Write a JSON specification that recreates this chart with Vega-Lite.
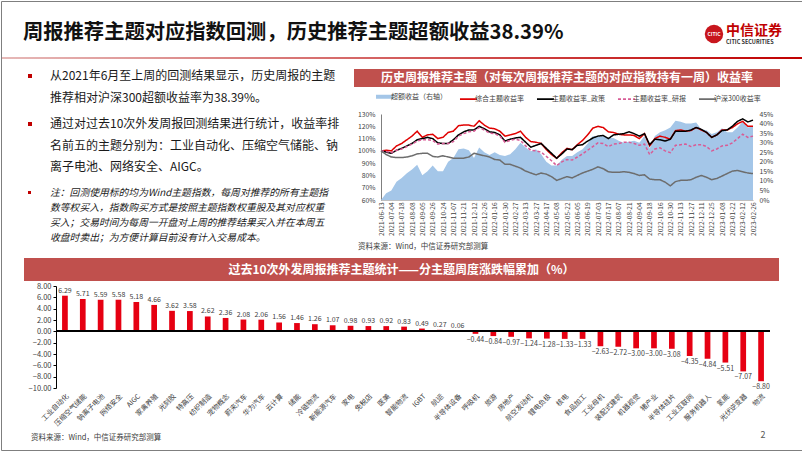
{
"$schema":"https://vega.github.io/schema/vega-lite/v6.json",
"padding":0,
"background":"white",
"config":{"view":{"stroke":null},"font":"Noto Sans CJK SC","concat":{"spacing":0}},
"bounds":"flush","spacing":0,
"vconcat":[
{"bounds":"flush","spacing":0,"vconcat":[
 {"bounds":"flush","spacing":0,"hconcat":[
  {"width":44,"height":56,"data":{"values":[{"t":"周报推荐主题对应指数回测，历史推荐主题超额收益38.39%"}]},"mark":{"type":"text","align":"left","baseline":"middle","dy":4,"fontSize":20.3,"fontWeight":"bold","color":"#111111"},"encoding":{"text":{"field":"t"}}},
  {"width":659,"height":1,"data":{"values":[]},"mark":"text"},
  {"width":20,"height":56,"layer":[
   {"data":{"values":[{"k":"logo"}]},"mark":{"type":"point","shape":"circle","filled":true,"size":340,"color":"#c8161d","opacity":1,"yOffset":5},"encoding":{}},
   {"data":{"values":[{"t":"CITIC"}]},"mark":{"type":"text","fontSize":5,"fontWeight":"bold","color":"white","dy":5},"encoding":{"text":{"field":"t"}}}
  ]},
  {"width":4,"height":56,"layer":[
   {"data":{"values":[{"t":"中信证券"}]},"mark":{"type":"text","align":"left","baseline":"middle","dy":2,"fontSize":14,"fontWeight":"bold","color":"#c00000"},"encoding":{"text":{"field":"t"}}},
   {"data":{"values":[{"t":"CITIC SECURITIES"}]},"mark":{"type":"text","align":"left","baseline":"middle","dy":13,"fontSize":5.5,"fontWeight":"bold","color":"#333333"},"encoding":{"text":{"field":"t"}}}
  ]}
 ]},
 {"width":1,"height":56,"data":{"values":[]},"mark":"text"},
 {"width":802,"height":2,"view":{"fill":{"gradient":"linear","stops":[{"offset":0,"color":"#e6b9b8"},{"offset":1,"color":"#c00000"}]}},"data":{"values":[]},"mark":"text"},
 {"bounds":"flush","spacing":0,"hconcat":[
  {"width":27,"height":1,"data":{"values":[]},"mark":"text"},
  {"bounds":"flush","spacing":0,"vconcat":[
   {"width":1,"height":15,"data":{"values":[]},"mark":"text"},
   {"width":4,"height":4,"view":{"fill":"#c00000"},"data":{"values":[{"t":"从2021年6月至上周的回测结果显示，历史周报的主题\n推荐相对沪深300超额收益率为38.39%。"}]},"mark":{"type":"text","align":"left","baseline":"middle","dx":20,"fontSize":12,"lineHeight":21.5,"lineBreak":"\n","color":"#1a1a1a"},"encoding":{"text":{"field":"t"}}},
   {"width":1,"height":44,"data":{"values":[]},"mark":"text"},
   {"width":4,"height":4,"view":{"fill":"#c00000"},"data":{"values":[{"t":"通过对过去10次外发周报回测结果进行统计，收益率排\n名前五的主题分别为：工业自动化、压缩空气储能、钠\n离子电池、网络安全、AIGC。"}]},"mark":{"type":"text","align":"left","baseline":"middle","dx":20,"fontSize":12,"lineHeight":21.5,"lineBreak":"\n","color":"#1a1a1a"},"encoding":{"text":{"field":"t"}}},
   {"width":1,"height":65,"data":{"values":[]},"mark":"text"},
   {"width":3,"height":3,"view":{"fill":"#c00000"},"data":{"values":[{"t":"注：回测使用标的均为Wind主题指数，每周对推荐的所有主题指\n数等权买入，指数购买方式是按照主题指数权重股及其对应权重\n买入；交易时间为每周一开盘对上周的推荐结果买入并在本周五\n收盘时卖出；为方便计算目前没有计入交易成本。"}]},"mark":{"type":"text","align":"left","baseline":"middle","dx":20.5,"fontSize":9.8,"fontStyle":"italic","lineHeight":15.3,"lineBreak":"\n","color":"#1a1a1a"},"encoding":{"text":{"field":"t"}}}
  ]},
  {"width":326,"height":1,"data":{"values":[]},"mark":"text"},
  {"bounds":"flush","spacing":0,"vconcat":[
   {"width":1,"height":10,"data":{"values":[]},"mark":"text"},
   {"width":426,"height":18,"view":{"fill":"#c0504d"},"data":{"values":[{"t":"历史周报推荐主题（对每次周报推荐主题的对应指数持有一周）收益率"}]},"mark":{"type":"text","align":"center","baseline":"middle","fontSize":12,"fontWeight":"bold","color":"white"},"encoding":{"text":{"field":"t"}}},
   {"width":1,"height":27,"data":{"values":[]},"mark":"text"},
   {"bounds":"flush","spacing":0,"resolve":{"scale":{"color":"independent","strokeDash":"independent"},"legend":{"color":"independent","strokeDash":"independent"}},"hconcat":[
    {"width":27,"height":1,"data":{"values":[]},"mark":"text"},
    {"width":372,"height":86,
     "data":{"values":[
{"d":"2021-06-13","超额收益（右轴）":0,"综合主题收益率":100,"主题收益率_政策":100,"主题收益率_研报":100,"沪深300收益率":100},
{"d":"2021-06-27","超额收益（右轴）":3.5,"综合主题收益率":100.5,"主题收益率_政策":99,"主题收益率_研报":99.5,"沪深300收益率":97},
{"d":"2021-07-04","超额收益（右轴）":5,"综合主题收益率":100,"主题收益率_政策":98,"主题收益率_研报":98.5,"沪深300收益率":95},
{"d":"2021-07-11","超额收益（右轴）":9.5,"综合主题收益率":104,"主题收益率_政策":100.5,"主题收益率_研报":100.5,"沪深300收益率":94.5},
{"d":"2021-07-18","超额收益（右轴）":11.5,"综合主题收益率":106,"主题收益率_政策":102,"主题收益率_研报":101.5,"沪深300收益率":94.5},
{"d":"2021-08-01","超额收益（右轴）":14,"综合主题收益率":109,"主题收益率_政策":104,"主题收益率_研报":103.5,"沪深300收益率":95},
{"d":"2021-08-08","超额收益（右轴）":16,"综合主题收益率":112,"主题收益率_政策":106,"主题收益率_研报":105.5,"沪深300收益率":96},
{"d":"2021-08-22","超额收益（右轴）":18.5,"综合主题收益率":116,"主题收益率_政策":109,"主题收益率_研报":108,"沪深300收益率":97.5},
{"d":"2021-09-05","超额收益（右轴）":13,"综合主题收益率":111,"主题收益率_政策":110,"主题收益率_研报":109,"沪深300收益率":98},
{"d":"2021-09-12","超额收益（右轴）":15,"综合主题收益率":113,"主题收益率_政策":111,"主题收益率_研报":109,"沪深300收益率":98},
{"d":"2021-09-26","超额收益（右轴）":18,"综合主题收益率":113.5,"主题收益率_政策":110,"主题收益率_研报":108.5,"沪深300收益率":95.5},
{"d":"2021-10-10","超额收益（右轴）":15,"综合主题收益率":110,"主题收益率_政策":106.5,"主题收益率_研报":105.5,"沪深300收益率":95},
{"d":"2021-10-24","超额收益（右轴）":15,"综合主题收益率":111,"主题收益率_政策":106,"主题收益率_研报":106,"沪深300收益率":96},
{"d":"2021-10-31","超额收益（右轴）":20,"综合主题收益率":115,"主题收益率_政策":106,"主题收益率_研报":106,"沪深300收益率":95},
{"d":"2021-11-07","超额收益（右轴）":22,"综合主题收益率":116,"主题收益率_政策":109,"主题收益率_研报":107.5,"沪深300收益率":94},
{"d":"2021-11-14","超额收益（右轴）":26.5,"综合主题收益率":120.5,"主题收益率_政策":113,"主题收益率_研报":112,"沪深300收益率":94},
{"d":"2021-11-21","超额收益（右轴）":27,"综合主题收益率":121,"主题收益率_政策":115.5,"主题收益率_研报":114,"沪深300收益率":94},
{"d":"2021-12-05","超额收益（右轴）":26,"综合主题收益率":121,"主题收益率_政策":117,"主题收益率_研报":115.5,"沪深300收益率":95},
{"d":"2021-12-12","超额收益（右轴）":22,"综合主题收益率":120,"主题收益率_政策":117,"主题收益率_研报":116,"沪深300收益率":98},
{"d":"2021-12-19","超额收益（右轴）":27.5,"综合主题收益率":124.5,"主题收益率_政策":120,"主题收益率_研报":119,"沪深300收益率":97},
{"d":"2021-12-26","超额收益（右轴）":25,"综合主题收益率":121,"主题收益率_政策":118,"主题收益率_研报":117,"沪深300收益率":96},
{"d":"2022-01-09","超额收益（右轴）":23.5,"综合主题收益率":118.5,"主题收益率_政策":115.5,"主题收益率_研报":114.5,"沪深300收益率":95},
{"d":"2022-01-16","超额收益（右轴）":25,"综合主题收益率":118,"主题收益率_政策":115,"主题收益率_研报":114,"沪深300收益率":93},
{"d":"2022-01-23","超额收益（右轴）":23.5,"综合主题收益率":116,"主题收益率_政策":113,"主题收益率_研报":112,"沪深300收益率":92.5},
{"d":"2022-01-30","超额收益（右轴）":23,"综合主题收益率":112,"主题收益率_政策":108,"主题收益率_研报":107,"沪深300收益率":89},
{"d":"2022-02-13","超额收益（右轴）":24,"综合主题收益率":113,"主题收益率_政策":109.5,"主题收益率_研报":108.5,"沪深300收益率":89},
{"d":"2022-02-27","超额收益（右轴）":26.5,"综合主题收益率":114,"主题收益率_政策":110.5,"主题收益率_研报":109.5,"沪深300收益率":87.5},
{"d":"2022-03-06","超额收益（右轴）":30,"综合主题收益率":116,"主题收益率_政策":111,"主题收益率_研报":108.5,"沪深300收益率":86},
{"d":"2022-03-13","超额收益（右轴）":27.5,"综合主题收益率":111,"主题收益率_政策":107,"主题收益率_研报":104,"沪深300收益率":83.5},
{"d":"2022-03-20","超额收益（右轴）":25.5,"综合主题收益率":107.5,"主题收益率_政策":103,"主题收益率_研报":100.5,"沪深300收益率":82},
{"d":"2022-03-27","超额收益（右轴）":26.5,"综合主题收益率":107,"主题收益率_政策":104.5,"主题收益率_研报":100,"沪深300收益率":80.5},
{"d":"2022-04-10","超额收益（右轴）":24,"综合主题收益率":106,"主题收益率_政策":106,"主题收益率_研报":99,"沪深300收益率":82},
{"d":"2022-04-17","超额收益（右轴）":20,"综合主题收益率":101,"主题收益率_政策":102,"主题收益率_研报":95.5,"沪深300收益率":81},
{"d":"2022-04-24","超额收益（右轴）":18,"综合主题收益率":97,"主题收益率_政策":98,"主题收益率_研报":92,"沪深300收益率":79},
{"d":"2022-05-08","超额收益（右轴）":18,"综合主题收益率":94,"主题收益率_政策":94,"主题收益率_研报":88,"沪深300收益率":76},
{"d":"2022-05-15","超额收益（右轴）":21,"综合主题收益率":98.5,"主题收益率_政策":97.5,"主题收益率_研报":91,"沪深300收益率":77.5},
{"d":"2022-05-22","超额收益（右轴）":23,"综合主题收益率":102,"主题收益率_政策":101.5,"主题收益率_研报":93,"沪深300收益率":79},
{"d":"2022-05-29","超额收益（右轴）":23,"综合主题收益率":101,"主题收益率_政策":101,"主题收益率_研报":92.5,"沪深300收益率":78},
{"d":"2022-06-05","超额收益（右轴）":25,"综合主题收益率":105,"主题收益率_政策":104.5,"主题收益率_研报":95,"沪深300收益率":80},
{"d":"2022-06-12","超额收益（右轴）":26.5,"综合主题收益率":108.5,"主题收益率_政策":105,"主题收益率_研报":97.5,"沪深300收益率":82},
{"d":"2022-06-19","超额收益（右轴）":29.5,"综合主题收益率":113,"主题收益率_政策":108,"主题收益率_研报":100.5,"沪深300收益率":83.5},
{"d":"2022-06-26","超额收益（右轴）":33.5,"综合主题收益率":118.5,"主题收益率_政策":110.5,"主题收益率_研报":103.5,"沪深300收益率":85},
{"d":"2022-07-03","超额收益（右轴）":33,"综合主题收益率":120,"主题收益率_政策":112,"主题收益率_研报":106.5,"沪深300收益率":87},
{"d":"2022-07-10","超额收益（右轴）":33.5,"综合主题收益率":119,"主题收益率_政策":112.5,"主题收益率_研报":106,"沪深300收益率":85.5},
{"d":"2022-07-17","超额收益（右轴）":32.5,"综合主题收益率":115.5,"主题收益率_政策":110,"主题收益率_研报":103.5,"沪深300收益率":83},
{"d":"2022-07-31","超额收益（右轴）":32.5,"综合主题收益率":115,"主题收益率_政策":113,"主题收益率_研报":105.5,"沪深300收益率":82.5},
{"d":"2022-08-07","超额收益（右轴）":31,"综合主题收益率":113.5,"主题收益率_政策":113.5,"主题收益率_研报":106,"沪深300收益率":82.5},
{"d":"2022-08-14","超额收益（右轴）":30,"综合主题收益率":113,"主题收益率_政策":114,"主题收益率_研报":107,"沪深300收益率":83},
{"d":"2022-08-21","超额收益（右轴）":30.5,"综合主题收益率":113,"主题收益率_政策":115.5,"主题收益率_研报":107,"沪深300收益率":82.5},
{"d":"2022-08-28","超额收益（右轴）":31,"综合主题收益率":112.5,"主题收益率_政策":114,"主题收益率_研报":106,"沪深300收益率":81.5},
{"d":"2022-09-04","超额收益（右轴）":30,"综合主题收益率":110,"主题收益率_政策":112,"主题收益率_研报":104.5,"沪深300收益率":80},
{"d":"2022-09-11","超额收益（右轴）":33.5,"综合主题收益率":114,"主题收益率_政策":114,"主题收益率_研报":105.5,"沪深300收益率":80.5},
{"d":"2022-09-18","超额收益（右轴）":27,"综合主题收益率":104,"主题收益率_政策":105,"主题收益率_研报":97,"沪深300收益率":77},
{"d":"2022-09-25","超额收益（右轴）":33.5,"综合主题收益率":110,"主题收益率_政策":109.5,"主题收益率_研报":101.5,"沪深300收益率":76.5},
{"d":"2022-10-16","超额收益（右轴）":35.5,"综合主题收益率":112,"主题收益率_政策":109,"主题收益率_研报":102.5,"沪深300收益率":76.5},
{"d":"2022-10-23","超额收益（右轴）":36.5,"综合主题收益率":111,"主题收益率_政策":108,"主题收益率_研报":100,"沪深300收益率":74.5},
{"d":"2022-10-30","超额收益（右轴）":38,"综合主题收益率":109.5,"主题收益率_政策":109.5,"主题收益率_研报":98.5,"沪深300收益率":71.5},
{"d":"2022-11-06","超额收益（右轴）":41.5,"综合主题收益率":116.5,"主题收益率_政策":116,"主题收益率_研报":104.5,"沪深300收益率":75},
{"d":"2022-11-13","超额收益（右轴）":41,"综合主题收益率":117,"主题收益率_政策":116,"主题收益率_研报":105,"沪深300收益率":76},
{"d":"2022-11-20","超额收益（右轴）":40,"综合主题收益率":116,"主题收益率_政策":116,"主题收益率_研报":105.5,"沪深300收益率":76},
{"d":"2022-11-27","超额收益（右轴）":40,"综合主题收益率":116.5,"主题收益率_政策":117,"主题收益率_研报":103.5,"沪深300收益率":76.5},
{"d":"2022-12-04","超额收益（右轴）":40.5,"综合主题收益率":119,"主题收益率_政策":119,"主题收益率_研报":105,"沪深300收益率":78.5},
{"d":"2022-12-11","超额收益（右轴）":37,"综合主题收益率":117,"主题收益率_政策":117.5,"主题收益率_研报":105,"沪深300收益率":80},
{"d":"2022-12-18","超额收益（右轴）":36.5,"综合主题收益率":115,"主题收益率_政策":115,"主题收益率_研报":103.5,"沪深300收益率":78.5},
{"d":"2022-12-25","超额收益（右轴）":34.5,"综合主题收益率":111,"主题收益率_政策":111,"主题收益率_研报":100,"沪深300收益率":76.5},
{"d":"2023-01-01","超额收益（右轴）":35.5,"综合主题收益率":113,"主题收益率_政策":113,"主题收益率_研报":101.5,"沪深300收益率":77.5},
{"d":"2023-01-08","超额收益（右轴）":37.5,"综合主题收益率":117,"主题收益率_政策":116.5,"主题收益率_研报":104,"沪深300收益率":79.5},
{"d":"2023-01-15","超额收益（右轴）":35.5,"综合主题收益率":117,"主题收益率_政策":117,"主题收益率_研报":104.5,"沪深300收益率":81.5},
{"d":"2023-01-22","超额收益（右轴）":35.5,"综合主题收益率":119,"主题收益率_政策":120,"主题收益率_研报":106.5,"沪深300收益率":83.5},
{"d":"2023-02-05","超额收益（右轴）":38,"综合主题收益率":122,"主题收益率_政策":124,"主题收益率_研报":110,"沪深300收益率":84},
{"d":"2023-02-12","超额收益（右轴）":41,"综合主题收益率":124,"主题收益率_政策":126,"主题收益率_研报":113.5,"沪深300收益率":83},
{"d":"2023-02-19","超额收益（右轴）":38,"综合主题收益率":120,"主题收益率_政策":123.5,"主题收益率_研报":111,"沪深300收益率":82},
{"d":"2023-02-26","超额收益（右轴）":38.4,"综合主题收益率":120,"主题收益率_政策":125,"主题收益率_研报":112,"沪深300收益率":81.5}
     ]},
     "transform":[{"fold":["超额收益（右轴）","综合主题收益率","主题收益率_政策","主题收益率_研报","沪深300收益率"],"as":["s","v"]}],
     "encoding":{"x":{"field":"d","type":"ordinal","sort":null,"scale":{"type":"point","padding":0},"axis":{"values":["2021-06-13","2021-07-04","2021-07-18","2021-08-08","2021-09-05","2021-09-26","2021-10-24","2021-11-07","2021-11-21","2021-12-12","2021-12-26","2022-01-16","2022-01-30","2022-02-27","2022-03-13","2022-03-27","2022-04-17","2022-05-08","2022-05-22","2022-06-05","2022-06-19","2022-07-03","2022-07-17","2022-08-07","2022-08-21","2022-09-04","2022-09-18","2022-10-16","2022-10-30","2022-11-13","2022-11-27","2022-12-11","2022-12-25","2023-01-08","2023-01-22","2023-02-12","2023-02-26"],"labelAngle":-90,"labelFontSize":6.5,"labelColor":"#404040","ticks":false,"domainColor":"#bfbfbf","labelPadding":2,"labelOverlap":false,"title":null}}},
     "layer":[
      {"transform":[{"filter":"datum.s === '超额收益（右轴）'"}],"mark":{"type":"area","opacity":1},
       "encoding":{"y":{"field":"v","type":"quantitative","scale":{"domain":[0,45],"nice":false},"axis":{"orient":"right","values":[0,5,10,15,20,25,30,35,40,45],"labelExpr":"datum.value + '%'","labelFontSize":6.8,"labelColor":"#404040","domain":false,"ticks":false,"grid":false,"labelPadding":6,"labelOverlap":false,"labelBound":false,"title":null}},
        "color":{"field":"s","type":"nominal","scale":{"domain":["超额收益（右轴）","综合主题收益率","主题收益率_政策","主题收益率_研报","沪深300收益率"],"range":["#a4c6e8","#e00000","#000000","#d85c96","#6d6d6d"]},"legend":{"title":null,"orient":"top","direction":"horizontal","symbolType":"stroke","symbolSize":290,"symbolStrokeWidth":2,"labelFontSize":7,"labelColor":"#404040","columnPadding":9,"offset":9,"padding":0,"labelOffset":3,"labelLimit":200,"encode":{"symbols":{"update":{"fill":{"value":"transparent"},"stroke":{"scale":"color","field":"value"},"strokeWidth":{"signal":"datum.value === '超额收益（右轴）' ? 4 : 1.6"},"strokeDash":{"signal":"datum.value === '主题收益率_研报' ? [3,2] : [1,0]"}}}}}}}},
      {"transform":[{"filter":"datum.s !== '超额收益（右轴）'"}],"mark":{"type":"line","strokeWidth":1.5},
       "encoding":{"y":{"field":"v","type":"quantitative","scale":{"domain":[60,130],"nice":false,"zero":false},"axis":{"orient":"left","values":[60,70,80,90,100,110,120,130],"labelExpr":"datum.value + '%'","labelFontSize":6.8,"labelColor":"#404040","domainColor":"#7f7f7f","ticks":false,"grid":false,"labelPadding":6,"labelOverlap":false,"labelBound":false,"title":null}},
        "color":{"field":"s","type":"nominal","scale":{"domain":["超额收益（右轴）","综合主题收益率","主题收益率_政策","主题收益率_研报","沪深300收益率"],"range":["#a4c6e8","#e00000","#000000","#d85c96","#6d6d6d"]},"legend":{"title":null,"orient":"top","direction":"horizontal","symbolType":"stroke","symbolSize":290,"symbolStrokeWidth":2,"labelFontSize":7,"labelColor":"#404040","columnPadding":9,"offset":9,"padding":0,"labelOffset":3,"labelLimit":200,"encode":{"symbols":{"update":{"fill":{"value":"transparent"},"stroke":{"scale":"color","field":"value"},"strokeWidth":{"signal":"datum.value === '超额收益（右轴）' ? 4 : 1.6"},"strokeDash":{"signal":"datum.value === '主题收益率_研报' ? [3,2] : [1,0]"}}}}}},
        "strokeDash":{"field":"s","type":"nominal","scale":{"domain":["综合主题收益率","主题收益率_政策","主题收益率_研报","沪深300收益率"],"range":[[1,0],[1,0],[3,2],[1,0]]},"legend":null}}}
     ],
     "resolve":{"scale":{"y":"independent"}}}
   ]},
   {"width":1,"height":129,"data":{"values":[]},"mark":"text"},
   {"width":8,"height":8,"data":{"values":[{"t":"资料来源：Wind，中信证券研究部测算"}]},"mark":{"type":"text","align":"left","baseline":"middle","fontSize":7.5,"color":"#404040"},"encoding":{"text":{"field":"t"}}}
  ]}
 ]},
 {"width":1,"height":199,"data":{"values":[]},"mark":"text"},
 {"bounds":"flush","spacing":0,"hconcat":[
  {"width":23,"height":1,"data":{"values":[]},"mark":"text"},
  {"width":755,"height":23,"view":{"fill":"#c0504d"},"data":{"values":[{"t":"过去10次外发周报推荐主题统计——分主题周度涨跌幅累加（%）"}]},"mark":{"type":"text","align":"center","baseline":"middle","fontSize":12,"fontWeight":"bold","color":"white"},"encoding":{"text":{"field":"t"}}}
 ]},
 {"width":1,"height":27.7,"data":{"values":[]},"mark":"text"},
 {"bounds":"flush","spacing":0,"hconcat":[
  {"width":55,"height":1,"data":{"values":[]},"mark":"text"},
  {"width":714,"height":102,
   "data":{"values":[
{"t":"工业自动化","v":6.29},{"t":"压缩空气储能","v":5.71},{"t":"钠离子电池","v":5.59},{"t":"网络安全","v":5.58},{"t":"AIGC","v":5.18},{"t":"家禽养殖","v":4.66},{"t":"光刻胶","v":3.62},{"t":"特高压","v":3.58},{"t":"纺织制造","v":2.62},{"t":"宠物概念","v":2.36},{"t":"蔚来汽车","v":2.08},{"t":"华为汽车","v":2.06},{"t":"云计算","v":1.56},{"t":"储能","v":1.46},{"t":"冷链物流","v":1.26},{"t":"新能源汽车","v":1.07},{"t":"家电","v":0.98},{"t":"免税店","v":0.93},{"t":"医美","v":0.92},{"t":"智能物流","v":0.83},{"t":"IGBT","v":0.49},{"t":"航运","v":0.27},{"t":"半导体设备","v":0.06},{"t":"呼吸机","v":-0.44},{"t":"旅游","v":-0.84},{"t":"房地产","v":-0.97},{"t":"航空发动机","v":-1.24},{"t":"锂电负极","v":-1.28},{"t":"核电","v":-1.33},{"t":"食品加工","v":-1.33},{"t":"工业母机","v":-2.63},{"t":"装配式建筑","v":-2.72},{"t":"机器视觉","v":-3.00},{"t":"猪产业","v":-3.00},{"t":"半导体硅片","v":-3.08},{"t":"工业互联网","v":-4.35},{"t":"服务机器人","v":-4.84},{"t":"氢能","v":-5.51},{"t":"光伏逆变器","v":-7.07},{"t":"物流","v":-8.80}
   ]},
   "encoding":{"y":{"field":"v","type":"quantitative","scale":{"domain":[-10,8],"nice":false},"axis":{"values":[-10,-8,-6,-4,-2,0,2,4,6,8],"format":".2f","labelFontSize":7.5,"labelColor":"#404040","domainColor":"#000000","tickColor":"#000000","tickSize":3,"grid":false,"title":null,"labelPadding":2,"labelOverlap":false,"labelBound":false,"labelFlush":false}}},
   "layer":[
    {"mark":{"type":"bar","color":"#e60012"},"encoding":{"x":{"field":"t","type":"nominal","sort":null,"scale":{"paddingInner":0.68,"paddingOuter":0.34},"axis":{"labelAngle":-45,"labelFontSize":7,"labelColor":"#404040","domain":false,"ticks":false,"labelPadding":4,"title":null}}}},
    {"mark":{"type":"rule","color":"#000000","strokeWidth":1},"encoding":{"y":{"datum":0}}},
    {"transform":[{"filter":"datum.v >= 0"}],"mark":{"type":"text","baseline":"bottom","dy":-2,"fontSize":7,"color":"#404040"},"encoding":{"x":{"field":"t","type":"nominal","sort":null},"text":{"field":"v","type":"quantitative","format":".2f"}}},
    {"transform":[{"filter":"datum.v < 0"}],"mark":{"type":"text","baseline":"top","dy":2,"fontSize":7,"color":"#404040"},"encoding":{"x":{"field":"t","type":"nominal","sort":null},"text":{"field":"v","type":"quantitative","format":".2f"}}}
   ]}
 ]},
 {"width":1,"height":147.3,"data":{"values":[]},"mark":"text"},
 {"bounds":"flush","spacing":0,"hconcat":[
  {"width":26,"height":1,"data":{"values":[]},"mark":"text"},
  {"width":8,"height":8,"data":{"values":[{"t":"资料来源：Wind，中信证券研究部测算"}]},"mark":{"type":"text","align":"left","baseline":"middle","fontSize":7.5,"color":"#404040"},"encoding":{"text":{"field":"t"}}},
  {"width":725,"height":1,"data":{"values":[]},"mark":"text"},
  {"width":6,"height":2,"data":{"values":[{"t":"2"}]},"mark":{"type":"text","align":"center","baseline":"middle","fontSize":9,"color":"#595959"},"encoding":{"text":{"field":"t"}}}
 ]}
]},
{"width":801,"height":449,"view":{"stroke":"#7f7f7f","strokeWidth":1},"data":{"values":[]},"mark":"text"}
]
}
